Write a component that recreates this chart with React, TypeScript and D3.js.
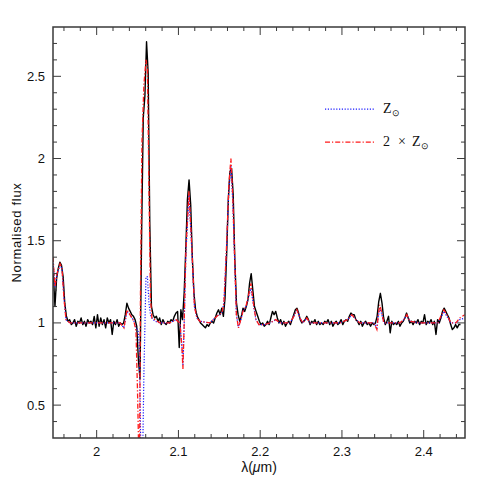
import { useMemo } from "react";
import * as d3 from "d3";

const WIDTH = 491;
const HEIGHT = 491;
const MARGIN = { left: 53, right: 26, top: 27, bottom: 53 };

const X_DOMAIN = [1.9466, 2.4505];
const Y_DOMAIN = [0.3, 2.8];

const X_MAJOR = [2.0, 2.1, 2.2, 2.3, 2.4];
const X_LABELS = ["2", "2.1", "2.2", "2.3", "2.4"];
const Y_MAJOR = [0.5, 1.0, 1.5, 2.0, 2.5];
const Y_LABELS = ["0.5", "1", "1.5", "2", "2.5"];

// observed spectrum, sampled every 0.002 micron from 1.947
const OBS_START = 1.947;
const OBS_STEP = 0.002;
const OBS_FLUX = [
  1.30, 1.10, 1.27, 1.33, 1.37, 1.35, 1.28, 1.12, 1.04, 1.01,
  1.02, 0.99, 1.00, 1.02, 0.98, 1.01, 1.00, 1.03, 0.99, 1.01,
  0.98, 1.02, 1.00, 1.01, 0.99, 1.04, 0.97, 1.05, 0.98, 1.03,
  0.99, 1.02, 0.97, 1.03, 1.00, 1.02, 0.93, 1.01, 0.99, 1.02,
  0.98, 1.00, 0.99, 1.00, 1.05, 1.12, 1.09, 1.07, 1.05, 1.04,
  1.02, 0.98, 0.78, 0.66, 1.55, 2.25, 2.38, 2.71, 2.52, 1.60,
  1.10, 1.05, 1.03, 1.04, 1.01, 1.03, 0.99, 1.02, 1.00, 0.99,
  1.01, 1.00, 1.02, 1.01, 1.04, 1.06, 1.07, 0.85, 1.08, 1.02,
  1.18, 1.45, 1.75, 1.87, 1.72, 1.40, 1.18, 1.08, 1.04, 1.02,
  1.00, 0.99, 0.98, 0.97, 0.99, 0.98, 1.00, 1.01, 1.00, 1.03,
  1.06, 1.08, 1.05, 1.09, 1.04, 1.15, 1.42, 1.75, 1.92, 1.94,
  1.78, 1.38, 1.12, 1.05, 1.01, 1.04, 1.09, 1.07, 1.10, 1.14,
  1.24, 1.30, 1.20, 1.10, 1.07, 1.04, 1.01, 0.99, 1.00, 0.98,
  0.99, 1.01, 0.99, 1.03, 1.07, 1.05, 1.07, 1.03, 1.00, 1.02,
  0.99, 1.01, 0.98, 1.00, 1.01, 0.99, 1.02, 1.05, 1.08, 1.09,
  1.06, 1.02, 1.00, 1.01, 1.02, 1.04, 1.02, 0.99, 1.01, 1.00,
  1.02, 0.99, 1.01, 0.99, 1.00, 0.99, 1.01, 1.00, 1.02, 0.99,
  1.01, 0.98, 1.00, 1.01, 0.99, 1.00, 1.02, 0.99, 1.01, 1.02,
  1.01, 1.04, 1.06, 1.05, 1.05, 1.02, 1.01, 0.99, 1.01, 0.98,
  1.00, 1.01, 0.99, 1.00, 0.98, 1.00, 0.99, 1.00, 1.04, 1.13,
  1.18, 1.12, 1.03, 0.99, 1.01, 1.04, 0.94, 1.01, 0.99, 1.00,
  0.99, 1.01, 0.98, 1.00, 1.01, 1.03, 1.06, 1.03, 1.00, 1.01,
  0.99, 1.01, 1.00, 1.02, 0.99, 1.01, 1.00, 1.05, 0.99, 1.01,
  1.00, 1.02, 0.99, 1.01, 0.93, 1.02, 1.00, 1.03, 1.07, 1.09,
  1.07, 1.05, 1.03, 0.99, 0.96, 0.97, 0.99, 0.97, 0.99, 0.99,
];

// model spectra (solar and twice solar metallicity)
const MODEL_WL = [
  1.9466, 1.9490, 1.9515, 1.9552, 1.9576, 1.9600, 1.9625, 1.9674, 1.9918, 2.0163,
  2.0285, 2.0334, 2.0371, 2.0407, 2.0456, 2.0481, 2.0499, 2.0511, 2.0523, 2.0536,
  2.0554, 2.0578, 2.0603, 2.0621, 2.0640, 2.0658, 2.0676, 2.0713, 2.0774, 2.0896,
  2.0970, 2.1019, 2.1043, 2.1055, 2.1068, 2.1092, 2.1129, 2.1165, 2.1196, 2.1226,
  2.1263, 2.1385, 2.1446, 2.1495, 2.1532, 2.1556, 2.1587, 2.1618, 2.1642, 2.1666,
  2.1691, 2.1709, 2.1734, 2.1764, 2.1789, 2.1825, 2.1850, 2.1887, 2.1917, 2.1948,
  2.1984, 2.2058, 2.2119, 2.2192, 2.2241, 2.2363, 2.2412, 2.2449, 2.2486, 2.2522,
  2.2571, 2.2608, 2.2730, 2.2975, 2.3072, 2.3121, 2.3170, 2.3219, 2.3390, 2.3427,
  2.3445, 2.3463, 2.3488, 2.3512, 2.3708, 2.3757, 2.3794, 2.3830, 2.3953, 2.4173,
  2.4209, 2.4246, 2.4283, 2.4332, 2.4393, 2.4442, 2.4503,
];
const RED_FLUX = [
  1.40, 1.22, 1.30, 1.36, 1.33, 1.15, 1.02, 1.00, 1.00, 1.00,
  1.00, 0.97, 1.08, 1.05, 1.01, 0.95, 0.60, 0.30, 0.00, 1.20,
  2.10, 2.45, 2.60, 2.55, 1.80, 1.15, 1.03, 1.02, 1.00, 1.00,
  1.02, 1.00, 0.85, 0.72, 0.95, 1.45, 1.80, 1.45, 1.10, 1.03,
  1.01, 1.00, 1.03, 1.05, 1.06, 1.12, 1.45, 1.85, 2.00, 1.75,
  1.35, 1.05, 0.97, 1.02, 1.07, 1.10, 1.15, 1.24, 1.12, 1.02,
  0.99, 0.99, 1.00, 1.02, 1.00, 1.00, 1.04, 1.08, 1.03, 1.00,
  1.03, 1.00, 1.00, 1.00, 1.02, 1.05, 1.02, 1.00, 1.00, 0.96,
  1.05, 1.11, 1.06, 1.00, 1.00, 1.02, 1.05, 1.01, 1.00, 1.00,
  1.04, 1.08, 1.05, 1.00, 1.00, 1.03, 1.05,
];
const BLUE_FLUX = [
  1.38, 1.22, 1.30, 1.35, 1.33, 1.15, 1.02, 1.00, 1.00, 1.00,
  1.00, 0.97, 1.07, 1.05, 1.01, 0.97, 0.96, 0.94, 0.85, 0.35,
  -0.10, 0.70, 1.28, 1.28, 1.12, 1.05, 1.03, 1.01, 1.00, 1.00,
  1.02, 1.00, 0.86, 0.74, 0.95, 1.43, 1.78, 1.43, 1.10, 1.03,
  1.01, 1.00, 1.03, 1.05, 1.06, 1.12, 1.43, 1.82, 1.96, 1.72,
  1.33, 1.05, 0.97, 1.02, 1.07, 1.10, 1.14, 1.21, 1.11, 1.02,
  0.99, 0.99, 1.00, 1.02, 1.00, 1.00, 1.04, 1.08, 1.03, 1.00,
  1.03, 1.00, 1.00, 1.00, 1.02, 1.05, 1.02, 1.00, 1.00, 0.97,
  1.04, 1.09, 1.05, 1.00, 1.00, 1.02, 1.05, 1.01, 1.00, 1.00,
  1.03, 1.07, 1.04, 1.00, 1.00, 1.02, 1.03,
];

const LEGEND_Y = [2.30, 2.10];

const FRAME = "#3a3a3a";
const BLUE = "#1a1aff";
const RED = "#ff1a1a";
const TICK_FONT = "'Liberation Sans', Arial, sans-serif";
const LEGEND_FONT = "'Liberation Serif', 'Times New Roman', serif";

export default function App() {
  const innerW = WIDTH - MARGIN.left - MARGIN.right;
  const innerH = HEIGHT - MARGIN.top - MARGIN.bottom;

  const x = d3.scaleLinear().domain(X_DOMAIN).range([0, innerW]);
  const y = d3.scaleLinear().domain(Y_DOMAIN).range([innerH, 0]);

  const line = d3
    .line<[number, number]>()
    .x((d) => x(d[0]))
    .y((d) => y(d[1]));

  const obsPath = useMemo(
    () => line(OBS_FLUX.map((f, i) => [OBS_START + i * OBS_STEP, f])),
    []
  );
  const redPath = line(MODEL_WL.map((w, i) => [w, RED_FLUX[i]]));
  const bluePath = line(MODEL_WL.map((w, i) => [w, BLUE_FLUX[i]]));

  const xMinor = d3.range(1.96, 2.441, 0.02).filter(
    (v) => !X_MAJOR.some((m) => Math.abs(m - v) < 1e-6)
  );
  const yMinor = d3.range(0.4, 2.75, 0.1).filter(
    (v) => !Y_MAJOR.some((m) => Math.abs(m - v) < 1e-6)
  );

  const MAJ = 8;
  const MIN = 4;
  const lx = 383 - MARGIN.left;

  return (
    <svg
      width={WIDTH}
      height={HEIGHT}
      style={{ position: "absolute", left: 0, top: 0, background: "#fff" }}
    >
      <defs>
        <clipPath id="plot-clip">
          <rect width={innerW} height={innerH} />
        </clipPath>
      </defs>
      <g transform={`translate(${MARGIN.left},${MARGIN.top})`}>
        <g clipPath="url(#plot-clip)" fill="none">
          <path d={obsPath} stroke="#000" strokeWidth={1.4} strokeLinejoin="round" />
          <path d={bluePath} stroke={BLUE} strokeWidth={1.2} strokeDasharray="1.2,1.6" />
          <path d={redPath} stroke={RED} strokeWidth={1.3} strokeDasharray="5,2,1.2,2" />
        </g>

        {/* ticks on all four sides, pointing inward */}
        <g stroke={FRAME} strokeWidth={1}>
          {X_MAJOR.map((v) => (
            <g key={`xM${v}`}>
              <line x1={x(v)} x2={x(v)} y1={innerH} y2={innerH - MAJ} />
              <line x1={x(v)} x2={x(v)} y1={0} y2={MAJ} />
            </g>
          ))}
          {xMinor.map((v) => (
            <g key={`xm${v}`}>
              <line x1={x(v)} x2={x(v)} y1={innerH} y2={innerH - MIN} />
              <line x1={x(v)} x2={x(v)} y1={0} y2={MIN} />
            </g>
          ))}
          {Y_MAJOR.map((v) => (
            <g key={`yM${v}`}>
              <line x1={0} x2={MAJ} y1={y(v)} y2={y(v)} />
              <line x1={innerW} x2={innerW - MAJ} y1={y(v)} y2={y(v)} />
            </g>
          ))}
          {yMinor.map((v) => (
            <g key={`ym${v}`}>
              <line x1={0} x2={MIN} y1={y(v)} y2={y(v)} />
              <line x1={innerW} x2={innerW - MIN} y1={y(v)} y2={y(v)} />
            </g>
          ))}
        </g>
        <rect width={innerW} height={innerH} fill="none" stroke={FRAME} strokeWidth={1.5} />

        <g fontFamily={TICK_FONT} fontSize={13} fill="#111">
          {X_MAJOR.map((v, i) => (
            <text key={`xl${v}`} x={x(v)} y={innerH + 18} textAnchor="middle">
              {X_LABELS[i]}
            </text>
          ))}
          {Y_MAJOR.map((v, i) => (
            <text key={`yl${v}`} x={-8} y={y(v) + 4.5} textAnchor="end">
              {Y_LABELS[i]}
            </text>
          ))}
        </g>

        <text
          x={innerW / 2}
          y={innerH + 34}
          textAnchor="middle"
          fontFamily={TICK_FONT}
          fontSize={14}
          fill="#111"
        >
          λ(<tspan fontStyle="italic">μ</tspan>m)
        </text>
        <text
          transform={`translate(${-32},${innerH / 2}) rotate(-90)`}
          textAnchor="middle"
          fontFamily={TICK_FONT}
          fontSize={13}
          letterSpacing={0.7}
          fill="#111"
        >
          Normalised flux
        </text>

        {/* legend */}
        <g fontFamily={LEGEND_FONT} fontSize={14} fill="#111">
          <line
            x1={lx - 58} x2={lx - 8} y1={y(LEGEND_Y[0])} y2={y(LEGEND_Y[0])}
            stroke={BLUE} strokeWidth={1.2} strokeDasharray="1.2,1.6"
          />
          <text x={lx} y={y(LEGEND_Y[0]) + 4}>
            Z<tspan fontSize={9} dy={3}>⊙</tspan>
          </text>
          <line
            x1={lx - 58} x2={lx - 8} y1={y(LEGEND_Y[1])} y2={y(LEGEND_Y[1])}
            stroke={RED} strokeWidth={1.3} strokeDasharray="5,2,1.2,2"
          />
          <text y={y(LEGEND_Y[1]) + 4}>
            <tspan x={lx}>2</tspan>
            <tspan x={lx + 15}>×</tspan>
            <tspan x={lx + 29}>Z</tspan>
            <tspan fontSize={9} dy={3}>⊙</tspan>
          </text>
        </g>
      </g>
    </svg>
  );
}
